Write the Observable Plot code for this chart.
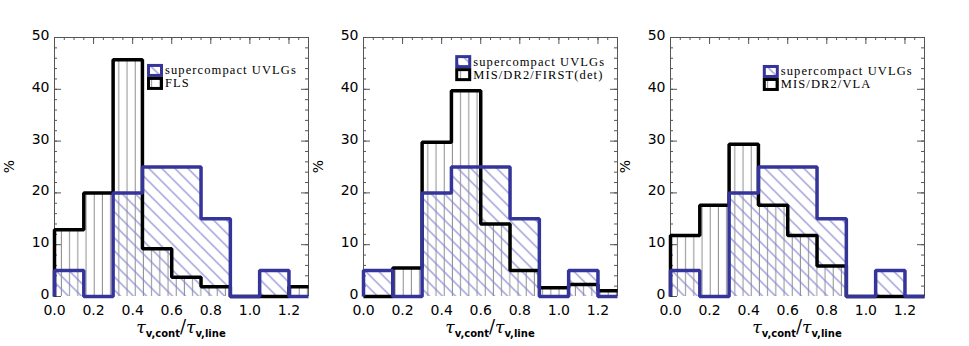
<!DOCTYPE html>
<html><head><meta charset="utf-8">
<script src="https://cdn.jsdelivr.net/npm/d3@7"></script>
<script src="https://cdn.jsdelivr.net/npm/@observablehq/plot@0.6"></script>
<style>
html,body{margin:0;padding:0;background:#fff;}
#wrap{position:relative;width:969px;height:346px;overflow:hidden;background:#fff;}
#wrap svg{position:absolute;top:0;}
</style></head><body><div id="wrap"></div>
<script>
// ---- data ----
const binEdges = [0, 0.15, 0.30, 0.45, 0.60, 0.75, 0.90, 1.05, 1.20];
const binWidth = 0.15;
const uvlgName = "supercompact UVLGs";
const uvlg = [5, 0, 20, 25, 25, 15, 0, 5, 0];
const fls = [12.9, 20.0, 45.7, 9.2, 3.7, 1.9, 0, 0, 1.9];
const firstDet = [0, 5.5, 29.8, 39.7, 14.0, 5.0, 1.7, 2.3, 1.1];
const vla = [11.8, 17.6, 29.4, 17.6, 11.8, 5.9, 0, 0, 0];
const comparisonNames = ["FLS", "MIS/DR2/FIRST(det)", "MIS/DR2/VLA"];
const comparisonValues = [fls, firstDet, vla];
const xTicks = [0, 0.2, 0.4, 0.6, 0.8, 1.0, 1.2];
const yTicks = [0, 10, 20, 30, 40, 50];
const yLabel = "%";

// ---- layout / style ----
const xDomain = [0, 1.3], yDomain = [0, 50];
const W = 310, H = 346, ML = 54, MR = 2, MT = 37, MB = 50;
const innerW = W - ML - MR, innerH = H - MT - MB;
const panelLefts = [0, 309, 616];
const legendAnchors = [[0.476, 44.8], [0.472, 46.5], [0.475, 44.6]];
const BLUE = "#34349a";

const wrap = d3.select("#wrap");
const defsSvg = wrap.append("svg").attr("width", 1).attr("height", 1).style("left", "-10px");
const defs = defsSvg.append("defs");
const pb = defs.append("pattern").attr("id", "hatchBlue").attr("patternUnits", "userSpaceOnUse")
  .attr("width", 9.2).attr("height", 9.2).attr("patternTransform", "rotate(-45)");
pb.append("line").attr("x1", 4.6).attr("x2", 4.6).attr("y1", -1).attr("y2", 10.2)
  .attr("stroke", "#8484d2").attr("stroke-width", 1.1);
const pg = defs.append("pattern").attr("id", "hatchGray").attr("patternUnits", "userSpaceOnUse")
  .attr("width", 8.2).attr("height", 8.2);
pg.append("line").attr("x1", 4).attr("x2", 4).attr("y1", -1).attr("y2", 9.2)
  .attr("stroke", "#8e8e8e").attr("stroke-width", 1);

function bins(vals) {
  return vals.map((v, i) => ({x1: binEdges[i], x2: Math.min(binEdges[i] + binWidth, xDomain[1]), y: v}));
}
function outline(vals) {
  const pts = [{x: binEdges[0], y: 0}];
  vals.forEach((v, i) => pts.push({x: binEdges[i], y: v}));
  const n = vals.length - 1;
  pts.push({x: Math.min(binEdges[n] + binWidth, xDomain[1]), y: vals[n]});
  return pts;
}

const yMinor = d3.range(yDomain[0], yDomain[1] + 0.001, 2);
const xMinor = d3.range(0, xDomain[1] + 0.001, 0.05);

comparisonValues.forEach((comp, i) => {
  const fig = Plot.plot({
    width: W, height: H, marginLeft: ML, marginRight: MR, marginTop: MT, marginBottom: MB,
    x: {domain: xDomain}, y: {domain: yDomain},
    style: {fontFamily: "DejaVu Sans", fontSize: "14px", background: "transparent", color: "#000"},
    marks: [
      Plot.rect(bins(comp), {x1: "x1", x2: "x2", y1: 0, y2: "y", fill: "url(#hatchGray)"}),
      Plot.rect(bins(uvlg), {x1: "x1", x2: "x2", y1: 0, y2: "y", fill: "url(#hatchBlue)"}),
      Plot.ruleX(xDomain, {stroke: "#555", strokeWidth: 1}),
      Plot.ruleY([yDomain[1]], {stroke: "#555", strokeWidth: 1}),
      Plot.tickY(yMinor, {y: d => d, insetRight: innerW - 3, stroke: "#555"}),
      Plot.tickY(yMinor, {y: d => d, insetLeft: innerW - 3, stroke: "#555"}),
      Plot.tickY(yTicks, {y: d => d, insetRight: innerW - 7, stroke: "#555"}),
      Plot.tickY(yTicks, {y: d => d, insetLeft: innerW - 7, stroke: "#555"}),
      Plot.tickX(xMinor, {x: d => d, insetBottom: innerH - 3, stroke: "#555"}),
      Plot.tickX(xTicks, {x: d => d, insetBottom: innerH - 7, stroke: "#555"}),
      Plot.line(outline(comp), {x: "x", y: "y", curve: "step-after", stroke: "#000", strokeWidth: 3.5, strokeLinejoin: "miter", strokeLinecap: "butt"}),
      Plot.line(outline(uvlg), {x: "x", y: "y", curve: "step-after", stroke: BLUE, strokeWidth: 3.5, strokeLinejoin: "miter", strokeLinecap: "butt"}),
      Plot.axisY(yTicks, {anchor: "left", tickSize: 0, tickPadding: 5, label: null, fontSize: 14, dy: -2}),
      Plot.axisX(xTicks, {anchor: "bottom", tickSize: 0, tickPadding: 9, label: null, fontSize: 14, tickFormat: d => d.toFixed(1)})
    ]
  });
  const svg = d3.select(fig);
  svg.style("left", panelLefts[i] + "px");
  const sx = fig.scale("x"), sy = fig.scale("y");

  // y label
  svg.append("text").attr("transform", `translate(14,${(MT + H - MB) / 2}) rotate(-90)`)
    .attr("text-anchor", "middle").attr("font-family", "DejaVu Sans").attr("font-size", 14).text(yLabel);

  // x title  tau_{v,cont}/tau_{v,line}
  const cx = (sx.apply(xDomain[0]) + sx.apply(xDomain[1])) / 2;
  const t = svg.append("text").attr("x", cx).attr("y", 333).attr("text-anchor", "middle")
    .attr("font-family", "DejaVu Serif").attr("font-size", 17);
  t.append("tspan").attr("font-style", "italic").text("τ");
  t.append("tspan").attr("font-family", "DejaVu Sans").attr("font-weight", "bold").attr("font-size", 10).attr("dy", 4).text("v,cont");
  t.append("tspan").attr("dy", -4).attr("font-size", 18).text("/");
  t.append("tspan").attr("font-style", "italic").text("τ");
  t.append("tspan").attr("font-family", "DejaVu Sans").attr("font-weight", "bold").attr("font-size", 10).attr("dy", 4).text("v,line");

  // legend
  const lx = sx.apply(legendAnchors[i][0]), ly = sy.apply(legendAnchors[i][1]);
  const g = svg.append("g").attr("text-anchor", "start");
  const rows = [[uvlgName, "url(#hatchBlue)", BLUE], [comparisonNames[i], "url(#hatchGray)", "#000"]];
  rows.forEach(([name, fill, stroke], r) => {
    g.append("rect").attr("x", lx + 1.5).attr("y", ly + r * 13 + 1.5).attr("width", 13).attr("height", 10)
      .attr("fill", fill).attr("stroke", stroke).attr("stroke-width", 3);
    g.append("text").attr("x", lx + 18).attr("y", ly + r * 13 + 10.5).attr("text-anchor", "start")
      .attr("font-family", "Liberation Serif").attr("font-size", 12.5).attr("letter-spacing", 1.1).text(name);
  });
  wrap.node().appendChild(fig);
});
</script>
</body></html>
